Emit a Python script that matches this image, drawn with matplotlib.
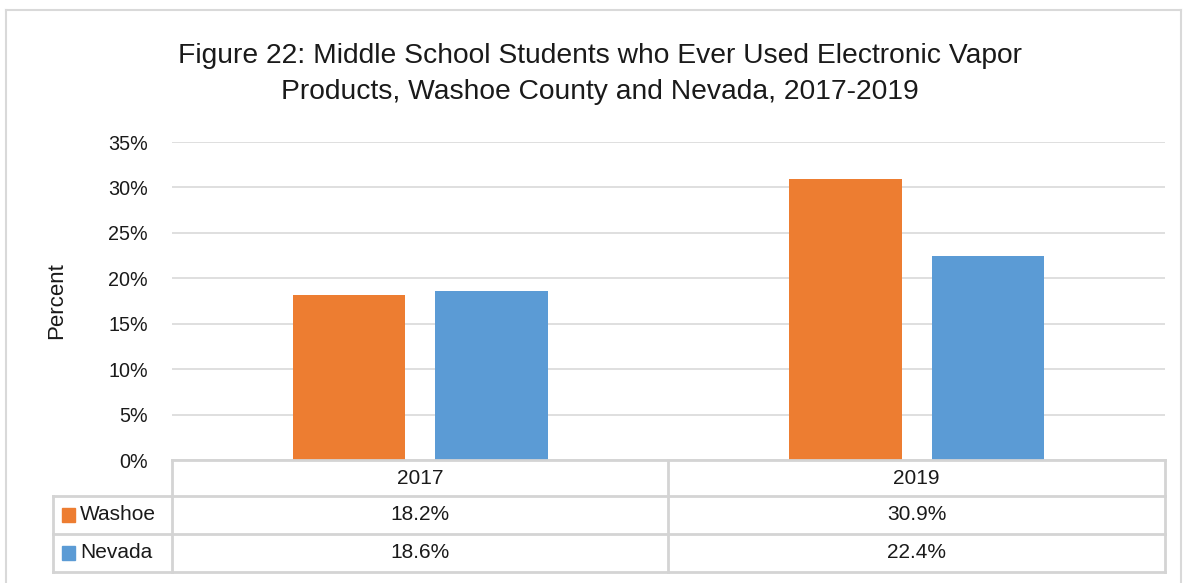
import matplotlib
matplotlib.use("Agg")
import matplotlib.pyplot as plt
from matplotlib.lines import Line2D
from matplotlib.patches import Rectangle
import matplotlib.transforms as mtransforms

plt.rcParams['font.family'] = ['Liberation Sans', 'DejaVu Sans']

years = ["2017", "2019"]
series_names = ["Washoe", "Nevada"]
washoe = [18.2, 30.9]
nevada = [18.6, 22.4]
colors = ["#ED7D31", "#5B9BD5"]
yticks = [0, 5, 10, 15, 20, 25, 30, 35]
title_lines = ["Figure 22: Middle School Students who Ever Used Electronic Vapor",
               "Products, Washoe County and Nevada, 2017-2019"]

W, H = 1186, 583
fig = plt.figure(figsize=(W / 100, H / 100), dpi=100)
txt = "#1a1a1a"

def fx(x):
    return x / W

def fy(y):
    return 1 - y / H

ax = fig.add_axes([fx(172), fy(460), fx(1165) - fx(172), fy(142) - fy(460)])
xs = list(range(len(years)))
bw = 0.2256
off = 0.1435
ax.bar([x - off for x in xs], washoe, width=bw, color=colors[0], zorder=3)
ax.bar([x + off for x in xs], nevada, width=bw, color=colors[1], zorder=3)
ax.set_xlim(-0.5, len(years) - 0.5)
ax.set_ylim(0, 35)
ax.set_yticks(yticks)
ax.set_yticklabels([f"{t}%" for t in yticks], fontsize=14.2, color=txt)
ax.set_xticks([])
ax.tick_params(axis="y", length=0, pad=17.3)
for s in ax.spines.values():
    s.set_visible(False)
ax.grid(axis="y", color="#d9d9d9", linewidth=1.2, zorder=0)

fig.text(fx(57), fy(301), "Percent", rotation=90, ha="center", va="center",
         fontsize=16, color=txt)

fig.text(fx(600), fy(63), title_lines[0], ha="center", va="baseline", fontsize=20.3, color=txt)
fig.text(fx(600), fy(99), title_lines[1], ha="center", va="baseline", fontsize=20.3, color=txt)

# chart outer border
gc = "#d9d9d9"
for (x0, y0, x1, y1) in [(6, 10, 1181, 10), (6, 10, 6, 583), (1181, 10, 1181, 583)]:
    fig.add_artist(Line2D([fx(x0), fx(x1)], [fy(y0), fy(y1)], color=gc, lw=1.5))

# data table
tc = "#d4d4d4"
lines = [
    (172, 460, 1165, 460), (53, 496, 1165, 496), (53, 534, 1165, 534), (53, 572, 1165, 572),
    (172, 460, 172, 572), (668, 460, 668, 572), (1165, 460, 1165, 572), (53, 496, 53, 572),
]
for (x0, y0, x1, y1) in lines:
    fig.add_artist(Line2D([fx(x0), fx(x1)], [fy(y0), fy(y1)], color=tc, lw=2))

bt = mtransforms.blended_transform_factory(ax.transData, fig.transFigure)
fs = 15
for i, yr in enumerate(years):
    fig.text(i, fy(478), yr, transform=bt, ha="center", va="center", fontsize=fs, color=txt)
    fig.text(i, fy(515), f"{washoe[i]:.1f}%", transform=bt, ha="center", va="center", fontsize=fs, color=txt)
    fig.text(i, fy(553), f"{nevada[i]:.1f}%", transform=bt, ha="center", va="center", fontsize=fs, color=txt)

for j, (name, c, yc) in enumerate(zip(series_names, colors, [515, 553])):
    fig.add_artist(Rectangle((fx(62), fy(yc + 7)), fx(75) - fx(62), fy(yc - 7) - fy(yc + 7),
                             color=c, transform=fig.transFigure))
    fig.text(fx(80), fy(yc), name, ha="left", va="center", fontsize=fs, color=txt)

fig.savefig("out.png", dpi=100, facecolor="white")
